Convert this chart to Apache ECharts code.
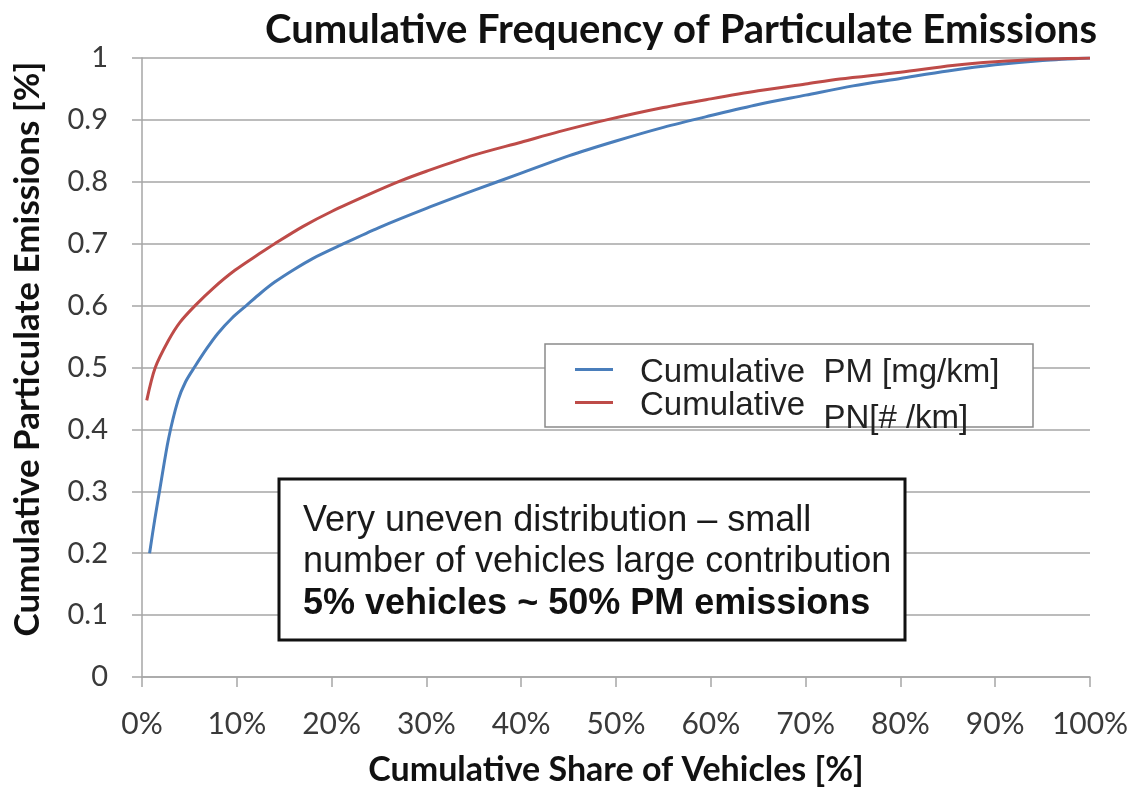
<!DOCTYPE html>
<html>
<head>
<meta charset="utf-8">
<script src="https://cdn.jsdelivr.net/npm/echarts@6/dist/echarts.min.js"></script>
<style>
  html, body { margin: 0; padding: 0; background: #fff; }
  #chart { width: 1141px; height: 788px; }
</style>
</head>
<body>
<div id="chart"></div>
<script>
// Cumulative share of vehicles (%) and cumulative share of emissions (fraction)
const pmShare = [0.8, 1.35, 1.9, 2.8, 3.8, 4.6, 5.6, 6.8, 8.0, 9.5, 11.0, 12.5, 14.0, 16.0, 18.0, 21.0, 25, 30, 35, 40, 45, 50, 55, 60, 65, 70, 75, 80, 85, 90, 95, 100];
const pmValue = [0.20, 0.255, 0.305, 0.385, 0.447, 0.477, 0.502, 0.53, 0.555, 0.58, 0.60, 0.62, 0.638, 0.658, 0.676, 0.698, 0.726, 0.757, 0.786, 0.814, 0.842, 0.866, 0.888, 0.907, 0.925, 0.94, 0.955, 0.967, 0.979, 0.989, 0.996, 1.0];

const pnShare = [0.5, 1.4, 2.8, 4.0, 5.6, 7.5, 9.8, 12.4, 14.0, 17, 20, 24, 27.2, 30, 35, 40, 44, 49, 55, 60, 65, 70, 73.6, 80, 85.5, 90, 95, 100];
const pnValue = [0.447, 0.50, 0.544, 0.573, 0.60, 0.628, 0.657, 0.684, 0.70, 0.728, 0.752, 0.78, 0.801, 0.817, 0.843, 0.864, 0.881, 0.90, 0.92, 0.934, 0.947, 0.958, 0.966, 0.977, 0.988, 0.994, 0.998, 1.0];

const seriesNames = ['Cumulative  PM [mg/km]', 'Cumulative  PN[# /km]'];
const seriesColors = ['#4a7ebb', '#be4b48'];

const titleText = 'Cumulative Frequency of Particulate Emissions';
const xAxisName = 'Cumulative Share of Vehicles [%]';
const yAxisName = 'Cumulative Particulate Emissions [%]';
const noteLines = [
  'Very uneven distribution \u2013 small',
  'number of vehicles large contribution',
  '5% vehicles ~ 50% PM emissions'
];

const pair = (xs, ys) => xs.map((x, i) => [x, ys[i]]);

const chart = echarts.init(document.getElementById('chart'), null, { renderer: 'canvas' });

const labelFont = 'Lato, "Open Sans", sans-serif';
const bodyFont = '"Liberation Sans", Arial, sans-serif';

chart.setOption({
  animation: false,
  backgroundColor: '#ffffff',
  title: {
    text: titleText,
    right: 44,
    top: 10,
    padding: 0,
    textStyle: { fontFamily: labelFont, fontWeight: 'bold', fontSize: 40, color: '#111' }
  },
  grid: { left: 142, right: 51, top: 58, bottom: 111, containLabel: false, outerBoundsMode: 'none' },
  xAxis: {
    type: 'value',
    min: 0, max: 100, interval: 10,
    axisLine: { show: true, lineStyle: { color: '#a6a6a6', width: 1.5 } },
    axisTick: { show: true, length: 10, lineStyle: { color: '#a6a6a6', width: 1.5 } },
    splitLine: { show: false },
    axisLabel: {
      formatter: '{value}%', margin: 32,
      fontFamily: labelFont, fontSize: 30, color: '#3a3a3a'
    },
    name: xAxisName,
    nameLocation: 'middle',
    nameGap: 76,
    nameTextStyle: { fontFamily: labelFont, fontWeight: 'bold', fontSize: 34, color: '#111' }
  },
  yAxis: {
    type: 'value',
    min: 0, max: 1, interval: 0.1,
    axisLine: { show: true, lineStyle: { color: '#a6a6a6', width: 1.5 } },
    axisTick: { show: true, length: 10, lineStyle: { color: '#a6a6a6', width: 1.5 } },
    splitLine: { show: true, lineStyle: { color: '#a6a6a6', width: 1.5 } },
    axisLabel: {
      formatter: v => String(Math.round(v * 10) / 10),
      margin: 34,
      fontFamily: labelFont, fontSize: 29, color: '#3a3a3a'
    }
  },
  legend: {
    orient: 'vertical',
    left: 575, top: 356,
    padding: 0,
    itemGap: 0,
    itemWidth: 38,
    itemHeight: 3,
    icon: 'rect',
    z: 20,
    data: seriesNames,
    formatter: name => {
      const parts = name.split('  ');
      return name === seriesNames[1]
        ? '{a|' + parts[0] + '  }{b|' + parts[1] + '}'
        : '{a|' + parts[0] + '  }{a|' + parts[1] + '}';
    },
    textStyle: {
      padding: [0, 0, 0, 22],
      rich: {
        a: { fontFamily: bodyFont, fontSize: 33, color: '#222', lineHeight: 27, verticalAlign: 'top' },
        b: { fontFamily: bodyFont, fontSize: 33, color: '#222', lineHeight: 27, verticalAlign: 'top', padding: [13, 0, 0, 0] }
      }
    }
  },
  graphic: [
    {
      type: 'text',
      x: 28,
      y: 349,
      rotation: Math.PI / 2,
      z: 10,
      style: {
        text: yAxisName,
        font: 'bold 35px ' + labelFont,
        fill: '#111',
        align: 'center',
        verticalAlign: 'middle'
      }
    },
    {
      type: 'rect',
      z: 15,
      shape: { x: 545, y: 344, width: 488, height: 83 },
      style: { fill: '#fff', stroke: '#8a8a8a', lineWidth: 1.5 }
    },
    {
      type: 'rect',
      z: 15,
      shape: { x: 279, y: 479, width: 626, height: 161 },
      style: { fill: '#fff', stroke: '#111', lineWidth: 3 }
    },
    {
      type: 'text', x: 303, y: 521, z: 16,
      style: { text: noteLines[0], font: '36px ' + bodyFont, fill: '#1a1a1a', verticalAlign: 'middle' }
    },
    {
      type: 'text', x: 303, y: 562, z: 16,
      style: { text: noteLines[1], font: '36px ' + bodyFont, fill: '#1a1a1a', verticalAlign: 'middle' }
    },
    {
      type: 'text', x: 303, y: 604, z: 16,
      style: { text: noteLines[2], font: 'bold 36px ' + bodyFont, fill: '#111', verticalAlign: 'middle' }
    }
  ],
  series: [
    {
      name: seriesNames[0],
      type: 'line',
      data: pair(pmShare, pmValue),
      smooth: 0.3,
      showSymbol: false,
      symbol: 'none',
      lineStyle: { color: seriesColors[0], width: 3 },
      itemStyle: { color: seriesColors[0] },
      z: 3
    },
    {
      name: seriesNames[1],
      type: 'line',
      data: pair(pnShare, pnValue),
      smooth: 0.3,
      showSymbol: false,
      symbol: 'none',
      lineStyle: { color: seriesColors[1], width: 3 },
      itemStyle: { color: seriesColors[1] },
      z: 3
    }
  ]
});
</script>
</body>
</html>
